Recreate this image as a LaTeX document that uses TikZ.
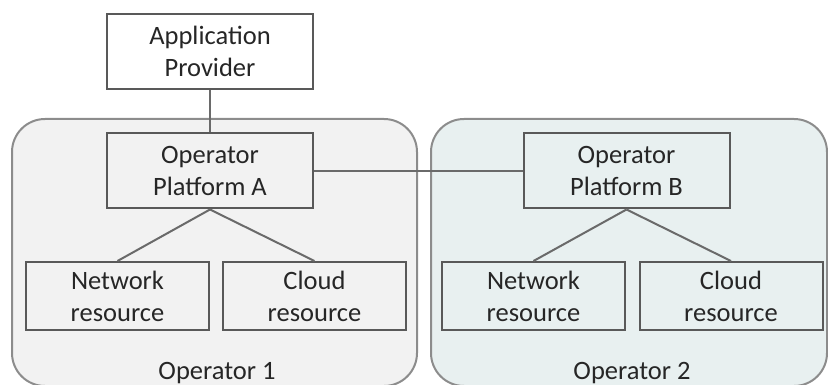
\documentclass[tikz,border=0pt]{standalone}
\usepackage{fontspec}
\setmainfont{Carlito}
\usepackage{tikz}
\usetikzlibrary{positioning}
\definecolor{boxline}{HTML}{595959}
\definecolor{opline}{HTML}{8C8C8C}
\definecolor{linkline}{HTML}{6A6A6A}
\definecolor{opAfill}{HTML}{F2F2F2}
\definecolor{opBfill}{HTML}{E8F0F0}
\definecolor{txt}{HTML}{262626}
\begin{document}
\begin{tikzpicture}[x=1pt,y=-1pt,
    font=\fontsize{26.5}{32}\selectfont,
    every node/.style={text=txt,align=center,inner sep=0pt},
    unit/.style={draw=boxline,line width=2pt,minimum width=206pt,minimum height=75pt},
    res/.style={draw=boxline,line width=2pt,minimum width=183pt,minimum height=68pt},
    operator/.style={draw=opline,line width=2pt,rounded corners=33pt},
    link/.style={draw=linkline,line width=2pt}]
    \useasboundingbox (0,0) rectangle (828,385);
    % operator areas
    \draw [operator,fill=opAfill] (12,119) rectangle (417,386);
    \draw [operator,fill=opBfill] (431,119) rectangle (827,386);
    \node (op1) at (217,373) {Operator 1};
    \node (op2) at (632,373) {Operator 2};
    % boxes
    \node [unit,fill=white] (app) at (210,51.5) {Application\\Provider};
    \node [unit] (platA) at (210,171) {Operator\\Platform A};
    \node [unit] (platB) at (626.5,171) {Operator\\Platform B};
    \node [res] (netA) at (117.5,296) {Network\\resource};
    \node [res] (cloudA) at (314.5,296) {Cloud\\resource};
    \node [res] (netB) at (533.5,296) {Network\\resource};
    \node [res] (cloudB) at (731,296) {Cloud\\resource};
    % links
    \draw [link] (app) -- (platA);
    \draw [link] (platA) -- (platB);
    \draw [link] (platA.south) -- (netA.north);
    \draw [link] (platA.south) -- (cloudA.north);
    \draw [link] (platB.south) -- (netB.north);
    \draw [link] (platB.south) -- (cloudB.north);
\end{tikzpicture}
\end{document}
